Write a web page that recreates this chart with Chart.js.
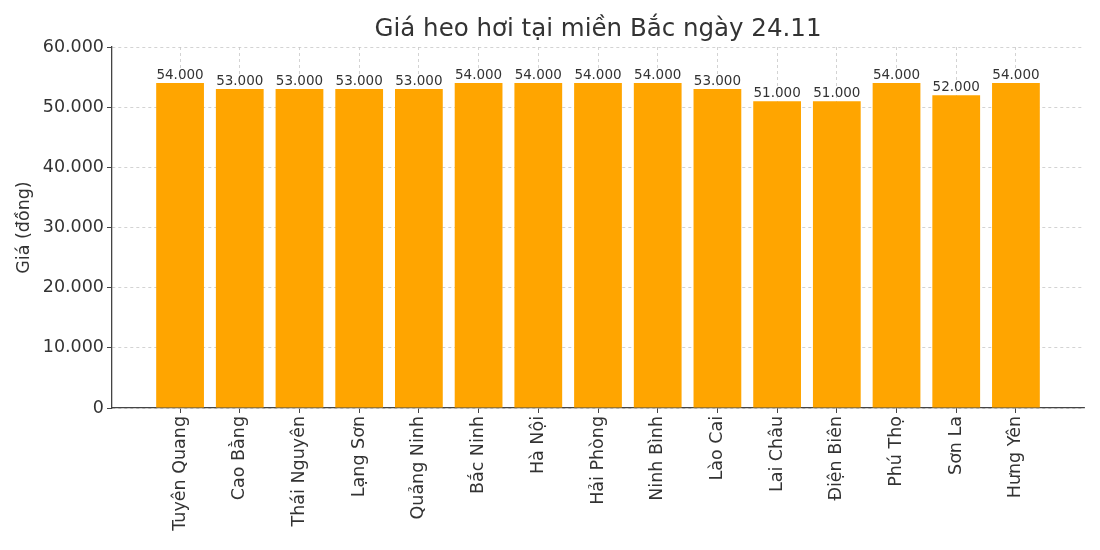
<!DOCTYPE html>
<html>
<head>
<meta charset="utf-8">
<script src="https://cdn.jsdelivr.net/npm/chart.js@4"></script>
<style>
  html, body { margin: 0; padding: 0; background: #fff; }
  #wrap { width: 1100px; height: 550px; }
</style>
</head>
<body>
<div id="wrap"><canvas id="chart"></canvas></div>
<script>
// Pig prices in northern provinces, 24.11 (đồng/kg)
const provinces = [
  "Tuyên Quang", "Cao Bằng", "Thái Nguyên", "Lạng Sơn", "Quảng Ninh",
  "Bắc Ninh", "Hà Nội", "Hải Phòng", "Ninh Bình", "Lào Cai",
  "Lai Châu", "Điện Biên", "Phú Thọ", "Sơn La", "Hưng Yên",
];
const prices = [
  54000, 53000, 53000, 53000, 53000,
  54000, 54000, 54000, 54000, 53000,
  51000, 51000, 54000, 52000, 54000,
];
const yTicks = [0, 10000, 20000, 30000, 40000, 50000, 60000];
const titleText = "Giá heo hơi tại miền Bắc ngày 24.11";

const FONT = "'DejaVu Sans', sans-serif";
const fmt = (v) => v.toLocaleString("de-DE");

// value text above each bar, and the title centred over the plot area
// (the built-in title centres over the whole canvas)
const labels = {
  id: "labels",
  afterDatasetsDraw(chart) {
    const ctx = chart.ctx;
    const meta = chart.getDatasetMeta(0);
    ctx.save();
    ctx.font = "13.5px " + FONT;
    ctx.fillStyle = "#333";
    ctx.textAlign = "center";
    ctx.textBaseline = "bottom";
    meta.data.forEach((bar, i) => {
      ctx.fillText(fmt(prices[i]), bar.x, bar.y - 1);
    });
    const area = chart.chartArea;
    ctx.font = "24.5px " + FONT;
    ctx.textBaseline = "middle";
    ctx.fillText(titleText, (area.left + area.right) / 2, 30);
    ctx.restore();
  },
};

const gridStyle = {
  color: "#c8c8c8",
  lineWidth: 0.8,
  tickLength: 5,
  tickColor: "#444",
  tickWidth: 1,
  tickBorderDash: [],
  offset: false,
};

new Chart(document.getElementById("chart"), {
  type: "bar",
  data: {
    datasets: [{
      data: prices.map((p, i) => ({ x: i, y: p })),
      backgroundColor: "#FFA500",
      borderWidth: 0,
      categoryPercentage: 1,
      barPercentage: 0.8,
    }],
  },
  options: {
    responsive: true,
    maintainAspectRatio: false,
    animation: false,
    layout: { padding: { top: 47, left: 0, right: 16, bottom: 0 } },
    plugins: {
      legend: { display: false },
      tooltip: { enabled: false },
      title: { display: false },
    },
    scales: {
      x: {
        type: "linear",
        min: -1.14,
        max: 15.14,
        offset: false,
        z: 1,
        afterBuildTicks: (s) => { s.ticks = provinces.map((_, i) => ({ value: i })); },
        afterFit: (s) => { s.height = 142; },
        ticks: {
          callback: (v) => provinces[v],
          minRotation: 90,
          maxRotation: 90,
          autoSkip: false,
          padding: 3,
          color: "#333",
          font: { family: FONT, size: 17.5 },
        },
        grid: gridStyle,
        border: { display: true, color: "#444", width: 1.3, dash: [3, 3] },
      },
      y: {
        min: 0,
        max: 60000,
        z: 1,
        afterBuildTicks: (s) => { s.ticks = yTicks.map((v) => ({ value: v })); },
        afterFit: (s) => { s.width = 112; },
        ticks: {
          callback: (v) => fmt(v),
          padding: 3,
          color: "#333",
          font: { family: FONT, size: 17.5 },
        },
        grid: gridStyle,
        border: { display: true, color: "#444", width: 1.3, dash: [3, 3] },
        title: {
          display: true,
          text: "Giá (đồng)",
          color: "#333",
          font: { family: FONT, size: 17.5 },
          padding: { top: 14, bottom: 0 },
        },
      },
    },
  },
  plugins: [labels],
});
</script>
</body>
</html>
